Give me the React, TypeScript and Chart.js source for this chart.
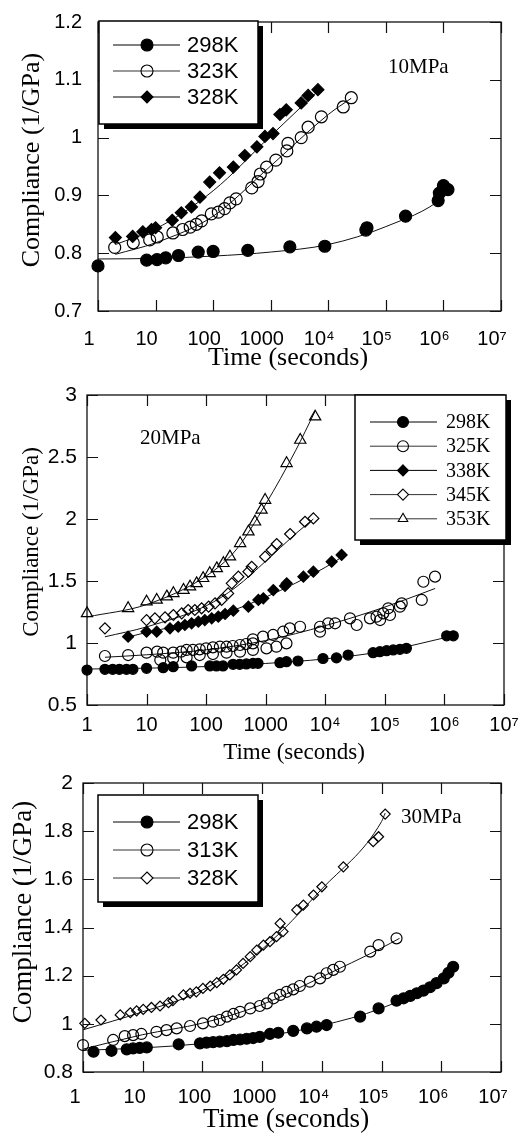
import React, { useEffect, useRef } from "react";
import { Chart, registerables } from "chart.js";

Chart.register(...registerables);

type Pt = [number, number];

// ---------- shared tick values / labels ----------
const xTickValues = [1, 10, 100, 1000, 1e4, 1e5, 1e6, 1e7];
const xTickLabels = ["1", "10", "100", "1000", "10⁴", "10⁵", "10⁶", "10⁷"];

const yTicks1 = [0.7, 0.8, 0.9, 1.0, 1.1, 1.2];
const yLabels1 = ["0.7", "0.8", "0.9", "1", "1.1", "1.2"];
const yTicks2 = [0.5, 1.0, 1.5, 2.0, 2.5, 3.0];
const yLabels2 = ["0.5", "1", "1.5", "2", "2.5", "3"];
const yTicks3 = [0.8, 1.0, 1.2, 1.4, 1.6, 1.8, 2.0];
const yLabels3 = ["0.8", "1", "1.2", "1.4", "1.6", "1.8", "2"];

// ---------- panel 1 : 10 MPa ----------
const p1Labels = ["298K", "323K", "328K"];
const p1Note = "10MPa";
const p1_298: Pt[] = [
  [1, 0.778], [7, 0.788], [10.6, 0.789], [15, 0.792], [25, 0.796], [55, 0.802],
  [100, 0.803], [400, 0.805], [2150, 0.811], [8700, 0.812], [45000, 0.840],
  [47000, 0.844], [2.2e5, 0.864], [8.1e5, 0.891], [8.5e5, 0.904], [1.0e6, 0.917],
  [1.2e6, 0.910],
];
const p1_323: Pt[] = [
  [1.95, 0.810], [4.1, 0.818], [7.9, 0.823], [10.7, 0.828], [20, 0.835], [29.5, 0.841],
  [40, 0.845], [51, 0.850], [63, 0.856], [93, 0.868], [123, 0.871], [158, 0.877],
  [195, 0.887], [251, 0.894], [468, 0.913], [603, 0.924], [661, 0.937], [851, 0.949],
  [1230, 0.961], [1905, 0.977], [1995, 0.990], [3388, 1.000], [4467, 1.018],
  [7586, 1.036], [18200, 1.053], [25100, 1.069],
];
const p1_328: Pt[] = [
  [2.0, 0.827], [4.0, 0.829], [6.0, 0.837], [8.5, 0.841], [10, 0.844], [19.5, 0.857],
  [28, 0.870], [42, 0.880], [59, 0.897], [87, 0.923], [129, 0.939], [224, 0.949],
  [355, 0.969], [575, 0.984], [794, 1.002], [1096, 1.007], [1445, 1.040], [1862, 1.048],
  [3388, 1.060], [4467, 1.073], [6607, 1.083],
];
const p1Fit298: Pt[] = [[1, 0.790], [10, 0.791], [100, 0.795], [1000, 0.802], [1e4, 0.815], [1e5, 0.846], [1e6, 0.897], [1.25e6, 0.908]];
const p1Fit323: Pt[] = [[2, 0.798], [10, 0.818], [100, 0.864], [1000, 0.951], [1e4, 1.040], [2.5e4, 1.068]];
const p1Fit328: Pt[] = [[2, 0.815], [10, 0.842], [100, 0.908], [1000, 1.003], [7000, 1.083]];

// ---------- panel 2 : 20 MPa ----------
const p2Labels = ["298K", "325K", "338K", "345K", "353K"];
const p2Note = "20MPa";
const p2_298: Pt[] = [
  [1, 0.782], [2, 0.788], [2.7, 0.788], [3.5, 0.788], [4.6, 0.788], [5.9, 0.788],
  [10, 0.796], [19, 0.801], [28, 0.809], [57, 0.815], [115, 0.815], [149, 0.815],
  [192, 0.815], [283, 0.828], [366, 0.828], [474, 0.831], [613, 0.836], [743, 0.836],
  [1730, 0.841], [2230, 0.849], [3480, 0.855], [9150, 0.875], [15400, 0.880],
  [24200, 0.903], [63400, 0.922], [82400, 0.930], [107000, 0.938], [138000, 0.944],
  [179000, 0.949], [230000, 0.957], [1.09e6, 1.058], [1.41e6, 1.058],
];
const p2_325: Pt[] = [
  [2, 0.895], [4.9, 0.903], [10, 0.922], [15, 0.930], [17, 0.863], [19, 0.922],
  [28, 0.922], [28, 0.876], [38, 0.930], [47, 0.944], [47, 0.884], [60, 0.944],
  [78, 0.949], [78, 0.903], [100, 0.957], [130, 0.965], [130, 0.911], [170, 0.970],
  [220, 0.970], [220, 0.922], [280, 0.976], [370, 0.984], [370, 0.930], [470, 0.992],
  [610, 0.997], [610, 0.944], [610, 1.030], [900, 1.051], [1030, 0.957], [1330, 1.065],
  [1510, 0.970], [1960, 1.091], [2230, 0.997], [2540, 1.118], [3770, 1.131],
  [8150, 1.091], [8150, 1.131], [11200, 1.159], [14600, 1.159], [26000, 1.199],
  [33700, 1.145], [56200, 1.199], [72400, 1.212], [83200, 1.185], [94200, 1.239],
  [114000, 1.280], [122000, 1.226], [179000, 1.293], [192000, 1.320], [416000, 1.347],
  [443000, 1.494], [695000, 1.535],
];
const p2_338: Pt[] = [
  [4.9, 1.051], [10, 1.091], [14.8, 1.091], [24.7, 1.118], [34, 1.131], [44, 1.145],
  [57, 1.159], [74, 1.172], [95, 1.185], [124, 1.199], [160, 1.212], [208, 1.234],
  [286, 1.261], [512, 1.293], [753, 1.347], [912, 1.360], [1340, 1.427], [2110, 1.460],
  [2250, 1.481], [4290, 1.535], [6310, 1.575], [12800, 1.656], [18800, 1.710],
];
const p2_345: Pt[] = [
  [2, 1.118], [10, 1.185], [13.8, 1.199], [20.4, 1.207], [28.2, 1.226], [38.9, 1.239],
  [50, 1.266], [64.6, 1.266], [84, 1.280], [110, 1.293], [141, 1.320], [182, 1.347],
  [234, 1.400], [269, 1.481], [347, 1.535], [513, 1.575], [582, 1.615], [977, 1.696],
  [1260, 1.750], [1530, 1.798], [2570, 1.879], [4570, 1.978], [6310, 2.005],
];
const p2_353: Pt[] = [
  [1, 1.239], [4.9, 1.280], [10, 1.333], [14.8, 1.347], [21.9, 1.374], [28.2, 1.401],
  [41.7, 1.427], [53.7, 1.454], [69.2, 1.481], [89.1, 1.522], [115, 1.562], [151, 1.602],
  [195, 1.643], [251, 1.696], [372, 1.804], [513, 1.898], [661, 1.978], [851, 2.073],
  [977, 2.153], [2240, 2.449], [3800, 2.637], [6760, 2.825],
];
const p2Fit298: Pt[] = [[1, 0.790], [10, 0.797], [100, 0.810], [1000, 0.835], [1e4, 0.872], [1e5, 0.935], [1.4e6, 1.058]];
const p2Fit325: Pt[] = [[2, 0.885], [10, 0.905], [100, 0.945], [1000, 1.020], [1e4, 1.140], [1e5, 1.290], [7e5, 1.440]];
const p2Fit338: Pt[] = [[5, 1.050], [10, 1.085], [100, 1.190], [1000, 1.370], [1e4, 1.610], [2e4, 1.700]];
const p2Fit345: Pt[] = [[2, 1.050], [10, 1.130], [100, 1.300], [316, 1.450], [1000, 1.660], [3162, 1.880], [6310, 2.000]];
const p2Fit353: Pt[] = [[1, 1.210], [10, 1.310], [100, 1.540], [316, 1.750], [1000, 2.120], [3162, 2.550], [6760, 2.870]];

// ---------- panel 3 : 30 MPa ----------
const p3Labels = ["298K", "313K", "328K"];
const p3Note = "30MPa";
const p3_298: Pt[] = [
  [1.5, 0.884], [3.0, 0.888], [5.4, 0.894], [6.9, 0.898], [8.9, 0.900], [11.7, 0.902],
  [40, 0.915], [91, 0.919], [117, 0.922], [151, 0.924], [195, 0.926], [257, 0.928],
  [331, 0.933], [427, 0.935], [550, 0.938], [708, 0.941], [912, 0.946], [1350, 0.958],
  [1860, 0.963], [3310, 0.971], [5620, 0.981], [8130, 0.988], [12000, 0.995],
  [43700, 1.030], [89100, 1.064], [178000, 1.096], [234000, 1.106], [302000, 1.116],
  [389000, 1.127], [501000, 1.138], [646000, 1.152], [832000, 1.169], [1.1e6, 1.189],
  [1.32e6, 1.212], [1.58e6, 1.237],
];
const p3_313: Pt[] = [
  [1, 0.912], [3.2, 0.933], [5, 0.949], [6.9, 0.953], [9.5, 0.958], [17, 0.967],
  [25, 0.974], [37, 0.981], [62, 0.991], [102, 1.002], [151, 1.009], [195, 1.016],
  [257, 1.030], [331, 1.041], [427, 1.050], [631, 1.064], [912, 1.074], [1200, 1.085],
  [1550, 1.106], [2000, 1.120], [2570, 1.133], [3310, 1.143], [4270, 1.157],
  [6310, 1.175], [9330, 1.189], [12000, 1.210], [15500, 1.224], [20000, 1.237],
  [64600, 1.300], [89100, 1.327], [178000, 1.355],
];
const p3_328: Pt[] = [
  [1.07, 1.002], [2.0, 1.016], [4.2, 1.037], [6.2, 1.046], [7.9, 1.054], [10.2, 1.060],
  [14, 1.068], [19.5, 1.074], [27, 1.088], [32, 1.096], [48, 1.120], [62, 1.127],
  [79, 1.133], [102, 1.147], [135, 1.157], [174, 1.171], [224, 1.185], [288, 1.203],
  [372, 1.224], [479, 1.251], [631, 1.279], [813, 1.306], [1050, 1.327], [1350, 1.341],
  [1740, 1.362], [2240, 1.383], [2000, 1.417], [3800, 1.473], [4900, 1.493],
  [7240, 1.535], [10000, 1.569], [22900, 1.652], [72400, 1.756], [89100, 1.777],
  [115000, 1.871],
];
const p3Fit298: Pt[] = [[1, 0.890], [10, 0.900], [100, 0.918], [1000, 0.947], [1e4, 0.993], [1e5, 1.065], [1e6, 1.185], [1.8e6, 1.240]];
const p3Fit313: Pt[] = [[1, 0.895], [10, 0.955], [100, 1.003], [1000, 1.080], [1e4, 1.195], [1e5, 1.315], [2e5, 1.355]];
const p3Fit328: Pt[] = [[1, 0.975], [10, 1.050], [100, 1.140], [1000, 1.310], [1e4, 1.560], [1e5, 1.840], [1.15e5, 1.875]];

// ---------- styling ----------
const SANS = "'Liberation Sans', Arial, Helvetica, sans-serif";
const SERIF = "'Liberation Serif', 'Times New Roman', Times, serif";
const W = 523;
const TICK_LEN = 11;

type Marker = "circle" | "rectRot" | "triangle";
interface Series { label: string; pts: Pt[]; fit: Pt[]; marker: Marker; filled: boolean; r: number; }
interface Panel {
  top: number; height: number;
  plot: { left: number; right: number; top: number; bottom: number };
  yMin: number; yMax: number; yTicks: number[]; yLabels: string[];
  xPad: number; xOffset: number; xFont: number;
  yPad: number; yFont: number;
  series: Series[];
  legend: { x: number; y: number; w: number; h: number; row0: number; gap: number; l0: number; l1: number; mx: number; tx: number; font: string; mr: number };
  note: { text: string; x: number; y: number; font: string };
  yTitle: { x: number; y: number; font: string };
  xTitle: { x: number; y: number; font: string };
}

const panels: Panel[] = [
  {
    top: 0, height: 375,
    plot: { left: 98, right: 501, top: 22, bottom: 311 },
    yMin: 0.7, yMax: 1.2, yTicks: yTicks1, yLabels: yLabels1,
    xPad: 18, xOffset: -9, xFont: 20, yPad: 16, yFont: 20,
    series: [
      { label: p1Labels[0], pts: p1_298, fit: p1Fit298, marker: "circle", filled: true, r: 6 },
      { label: p1Labels[1], pts: p1_323, fit: p1Fit323, marker: "circle", filled: false, r: 6 },
      { label: p1Labels[2], pts: p1_328, fit: p1Fit328, marker: "rectRot", filled: true, r: 6 },
    ],
    legend: { x: 99, y: 21, w: 159, h: 103, row0: 45, gap: 26, l0: 113, l1: 180, mx: 147, tx: 187, font: `22px ${SANS}`, mr: 6 },
    note: { text: p1Note, x: 388, y: 67, font: `21px ${SERIF}` },
    yTitle: { x: 32, y: 160, font: `26px ${SERIF}` },
    xTitle: { x: 288, y: 358, font: `26px ${SERIF}` },
  },
  {
    top: 375, height: 390,
    plot: { left: 87, right: 504, top: 20, bottom: 330 },
    yMin: 0.5, yMax: 3, yTicks: yTicks2, yLabels: yLabels2,
    xPad: 10, xOffset: 0, xFont: 20, yPad: 10, yFont: 21,
    series: [
      { label: p2Labels[0], pts: p2_298, fit: p2Fit298, marker: "circle", filled: true, r: 5 },
      { label: p2Labels[1], pts: p2_325, fit: p2Fit325, marker: "circle", filled: false, r: 5.5 },
      { label: p2Labels[2], pts: p2_338, fit: p2Fit338, marker: "rectRot", filled: true, r: 5.5 },
      { label: p2Labels[3], pts: p2_345, fit: p2Fit345, marker: "rectRot", filled: false, r: 5.5 },
      { label: p2Labels[4], pts: p2_353, fit: p2Fit353, marker: "triangle", filled: false, r: 6.5 },
    ],
    legend: { x: 355, y: 20, w: 151, h: 145, row0: 47, gap: 24.2, l0: 370, l1: 437, mx: 403, tx: 446, font: `20px ${SERIF}`, mr: 5.5 },
    note: { text: p2Note, x: 140, y: 63, font: `21px ${SERIF}` },
    yTitle: { x: 32, y: 167, font: `23px ${SERIF}` },
    xTitle: { x: 294, y: 378, font: `23px ${SERIF}` },
  },
  {
    top: 765, height: 368,
    plot: { left: 83, right: 501, top: 18, bottom: 307 },
    yMin: 0.8, yMax: 2, yTicks: yTicks3, yLabels: yLabels3,
    xPad: 15, xOffset: -8, xFont: 20, yPad: 10, yFont: 21,
    series: [
      { label: p3Labels[0], pts: p3_298, fit: p3Fit298, marker: "circle", filled: true, r: 5.5 },
      { label: p3Labels[1], pts: p3_313, fit: p3Fit313, marker: "circle", filled: false, r: 5.5 },
      { label: p3Labels[2], pts: p3_328, fit: p3Fit328, marker: "rectRot", filled: false, r: 5 },
    ],
    legend: { x: 98, y: 30, w: 160, h: 107, row0: 57, gap: 28, l0: 113, l1: 180, mx: 147, tx: 187, font: `22px ${SANS}`, mr: 6 },
    note: { text: p3Note, x: 401, y: 52, font: `21px ${SERIF}` },
    yTitle: { x: 24, y: 147, font: `27px ${SERIF}` },
    xTitle: { x: 286, y: 355, font: `27px ${SERIF}` },
  },
];

function drawMarker(ctx: CanvasRenderingContext2D, m: Marker, x: number, y: number, r: number, filled: boolean, solidWhite: boolean) {
  ctx.beginPath();
  if (m === "circle") {
    ctx.arc(x, y, r, 0, Math.PI * 2);
  } else if (m === "rectRot") {
    ctx.moveTo(x, y - r); ctx.lineTo(x + r, y); ctx.lineTo(x, y + r); ctx.lineTo(x - r, y);
  } else {
    ctx.moveTo(x, y - r);
    ctx.lineTo(x + r * 0.866, y + r * 0.5);
    ctx.lineTo(x - r * 0.866, y + r * 0.5);
  }
  ctx.closePath();
  if (filled) { ctx.fillStyle = "#000"; ctx.fill(); }
  else if (solidWhite) { ctx.fillStyle = "#fff"; ctx.fill(); }
  ctx.lineWidth = 1.1; ctx.strokeStyle = "#000"; ctx.stroke();
}

function makePlugin(p: Panel) {
  return {
    id: "decor",
    beforeDatasetsDraw(chart: any) {
      const ctx: CanvasRenderingContext2D = chart.ctx;
      const { left, right, top, bottom } = chart.chartArea;
      const xs = chart.scales.x;
      const ys = chart.scales.y;
      ctx.save();
      ctx.strokeStyle = "#111";
      ctx.lineWidth = 1.3;
      ctx.strokeRect(left, top, right - left, bottom - top);
      ctx.beginPath();
      ctx.lineWidth = 1.2;
      for (const v of xTickValues) {
        const px = Math.round(xs.getPixelForValue(v)) + 0.5;
        ctx.moveTo(px, bottom); ctx.lineTo(px, bottom - TICK_LEN);
        ctx.moveTo(px, top); ctx.lineTo(px, top + TICK_LEN);
      }
      for (const v of p.yTicks) {
        const py = Math.round(ys.getPixelForValue(v)) + 0.5;
        ctx.moveTo(left, py); ctx.lineTo(left + TICK_LEN, py);
        ctx.moveTo(right, py); ctx.lineTo(right - TICK_LEN, py);
      }
      ctx.stroke();
      ctx.restore();
    },
    afterDraw(chart: any) {
      const ctx: CanvasRenderingContext2D = chart.ctx;
      ctx.save();
      // legend box with shadow
      const L = p.legend;
      ctx.fillStyle = "#000";
      ctx.fillRect(L.x + 5, L.y + 5, L.w, L.h);
      ctx.fillStyle = "#fff";
      ctx.fillRect(L.x, L.y, L.w, L.h);
      ctx.strokeStyle = "#000";
      ctx.lineWidth = 1.5;
      ctx.strokeRect(L.x, L.y, L.w, L.h);
      p.series.forEach((s, i) => {
        const y = L.row0 + i * L.gap;
        ctx.beginPath();
        ctx.strokeStyle = s.filled ? "#000" : "#333";
        ctx.lineWidth = 1;
        ctx.moveTo(L.l0, y); ctx.lineTo(L.l1, y);
        ctx.stroke();
        drawMarker(ctx, s.marker, L.mx, y, L.mr, s.filled, s.marker !== "circle");
        ctx.fillStyle = "#000";
        ctx.font = L.font;
        ctx.textAlign = "left";
        ctx.textBaseline = "middle";
        ctx.fillText(s.label, L.tx, y + 1);
      });
      // pressure note
      ctx.fillStyle = "#000";
      ctx.font = p.note.font;
      ctx.textAlign = "left";
      ctx.textBaseline = "middle";
      ctx.fillText(p.note.text, p.note.x, p.note.y);
      // axis titles
      ctx.font = p.xTitle.font;
      ctx.textAlign = "center";
      ctx.fillText("Time (seconds)", p.xTitle.x, p.xTitle.y);
      ctx.translate(p.yTitle.x, p.yTitle.y);
      ctx.rotate(-Math.PI / 2);
      ctx.font = p.yTitle.font;
      ctx.fillText("Compliance (1/GPa)", 0, 0);
      ctx.restore();
    },
  };
}

function PanelChart({ p }: { p: Panel }) {
  const ref = useRef<HTMLCanvasElement | null>(null);
  useEffect(() => {
    if (!ref.current) return;
    const datasets: any[] = [];
    p.series.forEach((s) => {
      datasets.push({
        label: s.label,
        data: s.pts.map(([x, y]) => ({ x, y })),
        showLine: false,
        pointStyle: s.marker,
        pointRadius: s.r,
        pointBackgroundColor: s.filled ? "#000" : "rgba(255,255,255,0)",
        pointBorderColor: "#000",
        pointBorderWidth: 1.2,
        clip: false,
        order: 1,
      });
    });
    p.series.forEach((s) => {
      datasets.push({
        label: s.label + " fit",
        data: s.fit.map(([x, y]) => ({ x, y })),
        showLine: true,
        pointRadius: 0,
        borderColor: "#111",
        borderWidth: 1,
        cubicInterpolationMode: "monotone",
        fill: false,
        order: 2,
      });
    });
    const chart = new Chart(ref.current, {
      type: "scatter",
      data: { datasets },
      plugins: [makePlugin(p)],
      options: {
        responsive: false,
        animation: false,
        events: [],
        layout: { padding: { left: 0, top: p.plot.top, right: W - p.plot.right, bottom: 0 } },
        plugins: { legend: { display: false }, tooltip: { enabled: false } },
        scales: {
          x: {
            type: "logarithmic",
            position: "bottom",
            min: 1,
            max: 1e7,
            grid: { display: false, drawTicks: false },
            border: { display: false },
            afterBuildTicks: (s: any) => { s.ticks = xTickValues.map((v) => ({ value: v })); },
            afterFit: (s: any) => { s.height = p.height - p.plot.bottom; s.paddingLeft = 0; s.paddingRight = 0; },
            ticks: {
              autoSkip: false, maxRotation: 0, minRotation: 0,
              padding: p.xPad, labelOffset: p.xOffset, color: "#000",
              font: { family: SANS, size: p.xFont, lineHeight: 1 },
              callback: (_v: any, i: number) => xTickLabels[i],
            },
          },
          y: {
            type: "linear",
            position: "left",
            min: p.yMin,
            max: p.yMax,
            grid: { display: false, drawTicks: false },
            border: { display: false },
            afterBuildTicks: (s: any) => { s.ticks = p.yTicks.map((v) => ({ value: v })); },
            afterFit: (s: any) => { s.width = p.plot.left; s.paddingTop = 0; s.paddingBottom = 0; },
            ticks: {
              autoSkip: false, padding: p.yPad, color: "#000",
              font: { family: SANS, size: p.yFont, lineHeight: 1 },
              callback: (_v: any, i: number) => p.yLabels[i],
            },
          },
        },
      } as any,
    });
    return () => chart.destroy();
  }, [p]);
  return (
    <canvas
      ref={ref}
      width={W}
      height={p.height}
      style={{ position: "absolute", left: 0, top: p.top, width: W, height: p.height, display: "block" }}
    />
  );
}

export default function App() {
  useEffect(() => {
    document.body.style.margin = "0";
    document.body.style.background = "#fff";
  }, []);
  return (
    <div style={{ position: "relative", width: W, height: 1133, background: "#fff", overflow: "hidden" }}>
      {panels.map((p, i) => (
        <PanelChart key={i} p={p} />
      ))}
    </div>
  );
}
